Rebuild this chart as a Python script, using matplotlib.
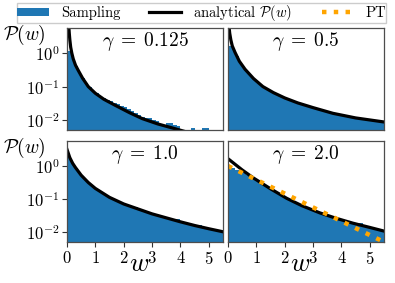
import numpy as np
import matplotlib
matplotlib.use("Agg")
import matplotlib.pyplot as plt
from matplotlib.ticker import LogLocator, NullLocator

plt.rcParams['font.family'] = 'cmr10'
plt.rcParams['mathtext.fontset'] = 'cm'
plt.rcParams['axes.formatter.use_mathtext'] = True

# histogram bins (width 0.125 from 0 to 5.5)
bin_width = 0.125
edges = np.arange(0, 5.5 + 1e-9, bin_width)

# sampled histograms, one per gamma
hist_0125 = [1.2, 0.85, 0.42, 0.27, 0.18, 0.125, 0.095, 0.076, 0.063, 0.053, 0.046,
             0.040, 0.036, 0.033, 0.030, 0.027, 0.024, 0.021, 0.019, 0.016, 0.0145,
             0.0125, 0.0118, 0.0112, 0.0098, 0.0090, 0.0076, 0.0070, 0.0082, 0.0080,
             0.0070, 0.0068, 0, 0, 0, 0.0058, 0, 0, 0.0058, 0.0058, 0, 0, 0, 0]
hist_05 = [1.7, 1.4, 0.8, 0.51, 0.36, 0.27, 0.207, 0.16, 0.13, 0.105, 0.089, 0.078,
           0.068, 0.060, 0.053, 0.047, 0.043, 0.039, 0.036, 0.033, 0.030, 0.028, 0.026,
           0.024, 0.0224, 0.0209, 0.0205, 0.0192, 0.0170, 0.0158, 0.0150, 0.0143,
           0.0136, 0.0129, 0.0123, 0.0125, 0.0112, 0.0108, 0.0104, 0.0101, 0.0097,
           0.0094, 0.0091, 0.0088]
hist_1 = [2.0, 1.26, 0.86, 0.62, 0.46, 0.355, 0.283, 0.23, 0.19, 0.164, 0.14, 0.12,
          0.105, 0.093, 0.083, 0.074, 0.067, 0.061, 0.056, 0.056, 0.047, 0.043, 0.040,
          0.037, 0.034, 0.031, 0.029, 0.028, 0.026, 0.024, 0.025, 0.024, 0.0196,
          0.0184, 0.0172, 0.0162, 0.0152, 0.0160, 0.0135, 0.0128, 0.0135, 0.0125,
          0.0110, 0.0104]
hist_2 = [0.95, 0.86, 0.77, 0.68, 0.60, 0.53, 0.466, 0.40, 0.35, 0.30, 0.258, 0.221,
          0.19, 0.164, 0.142, 0.122, 0.106, 0.093, 0.083, 0.074, 0.065, 0.059, 0.053,
          0.048, 0.044, 0.040, 0.036, 0.033, 0.031, 0.028, 0.026, 0.024, 0.0226, 0.021,
          0.0196, 0.0183, 0.0172, 0.019, 0.0152, 0.0143, 0.0134, 0.0126, 0.0118, 0.0111]

# analytical curves
w_c0125 = [0.06, 0.08, 0.1, 0.13, 0.17, 0.22, 0.3, 0.4, 0.55, 0.75, 1.0, 1.3, 1.7,
           2.2, 2.65, 3.2, 3.7, 4.2]
p_c0125 = [7.08, 3.98, 2.51, 1.51, 1.0, 0.676, 0.437, 0.302, 0.178, 0.1, 0.063,
           0.0417, 0.0275, 0.0166, 0.011, 0.0076, 0.0058, 0.0044]
w_c05 = [0.03, 0.06, 0.1, 0.15, 0.25, 0.4, 0.6, 0.9, 1.23, 1.6, 2.0, 2.46, 3.0, 3.7,
         4.5, 5.5]
p_c05 = [7.08, 3.98, 2.51, 1.66, 1.05, 0.575, 0.331, 0.174, 0.1, 0.066, 0.0457,
         0.0324, 0.0234, 0.0158, 0.0115, 0.0087]
w_c1 = [0, 0.1, 0.2, 0.3, 0.5, 0.75, 1.0, 1.5, 2.0, 2.5, 3.0, 3.5, 4.0, 4.5, 5.0, 5.5]
p_c1 = [3.16, 1.78, 1.20, 0.891, 0.525, 0.316, 0.209, 0.112, 0.0708, 0.0501, 0.0355,
        0.0269, 0.0204, 0.0158, 0.0126, 0.0102]
w_c2 = [0, 0.5, 0.89, 1.5, 2.07, 2.6, 3.24, 3.8, 4.4, 5.0, 5.5]
p_c2 = [1.66, 0.759, 0.437, 0.204, 0.105, 0.0631, 0.038, 0.0263, 0.0186, 0.0138, 0.0107]

# perturbation theory (gamma = 2 only)
w_pt = [0, 1, 2, 3, 4, 5, 5.5]
p_pt = [1.0, 0.382, 0.146, 0.0557, 0.0213, 0.0081, 0.005]

gammas = ["0.125", "0.5", "1.0", "2.0"]
hists = [hist_0125, hist_05, hist_1, hist_2]
curves = [(w_c0125, p_c0125), (w_c05, p_c05), (w_c1, p_c1), (w_c2, p_c2)]

W, H = 395, 283
fig = plt.figure(figsize=(W / 100, H / 100), dpi=100)

# axes boxes in pixels: (left, top, width, height)
boxes = [(67, 28, 156, 102), (228, 28, 156, 102),
         (67, 141, 156, 101), (228, 141, 156, 101)]

blue = '#1f77b4'
for i, (l, t, w, h) in enumerate(boxes):
    ax = fig.add_axes([l / W, 1 - (t + h) / H, w / W, h / H])
    ax.set_yscale('log')
    hb = ax.bar(edges[:-1], hists[i], width=bin_width, align='edge',
                color=blue, linewidth=0, label='Sampling')
    ln, = ax.plot(curves[i][0], curves[i][1], color='black', lw=2.3,
                  label=r'analytical $\mathcal{P}(w)$')
    if i == 3:
        pt, = ax.plot(w_pt, p_pt, color='orange', lw=3.2, linestyle=':',
                      label='PT')
    ax.set_xlim(0, 5.5)
    ax.set_ylim(0.005, 5.7)
    ax.yaxis.set_major_locator(LogLocator(base=10, numticks=10))
    ax.yaxis.set_minor_locator(NullLocator())
    ax.set_xticks([0, 1, 2, 3, 4, 5])
    for s in ax.spines.values():
        s.set_color('0.3')
        s.set_linewidth(0.9)
    ax.tick_params(labelsize=12, length=3.5, width=0.8, color='0.2', pad=2)
    ax.text(0.5, 0.87, r'$\gamma\;=\;%s$' % gammas[i], transform=ax.transAxes,
            ha='center', va='center', fontsize=14)
    if i < 2:
        ax.tick_params(bottom=False, labelbottom=False)
    else:
        # x label placed by hand, just under the tick labels
        fig.text((l + 0.46 * w) / W, 1 - 271 / H, r'$w$', fontsize=19,
                 ha='center', va='baseline')
    if i % 2 == 1:
        ax.tick_params(left=False, labelleft=False)
    else:
        ax.set_ylabel(r'$\mathcal{P}(w)$', fontsize=14, rotation=0,
                      ha='center', va='center')
        ax.yaxis.set_label_coords(-0.275, 0.93)

fig.legend(handles=[hb, ln, pt], loc='upper left', ncol=3, mode='expand',
           bbox_to_anchor=(17 / W, 1 - 17 / H, 369 / W, 14 / H),
           fontsize=10.5, borderpad=0.0, handlelength=2.2, handletextpad=0.8,
           handleheight=0.5, borderaxespad=0, fancybox=False, edgecolor='0.8',
           framealpha=1)

fig.savefig('out.png', dpi=100)
